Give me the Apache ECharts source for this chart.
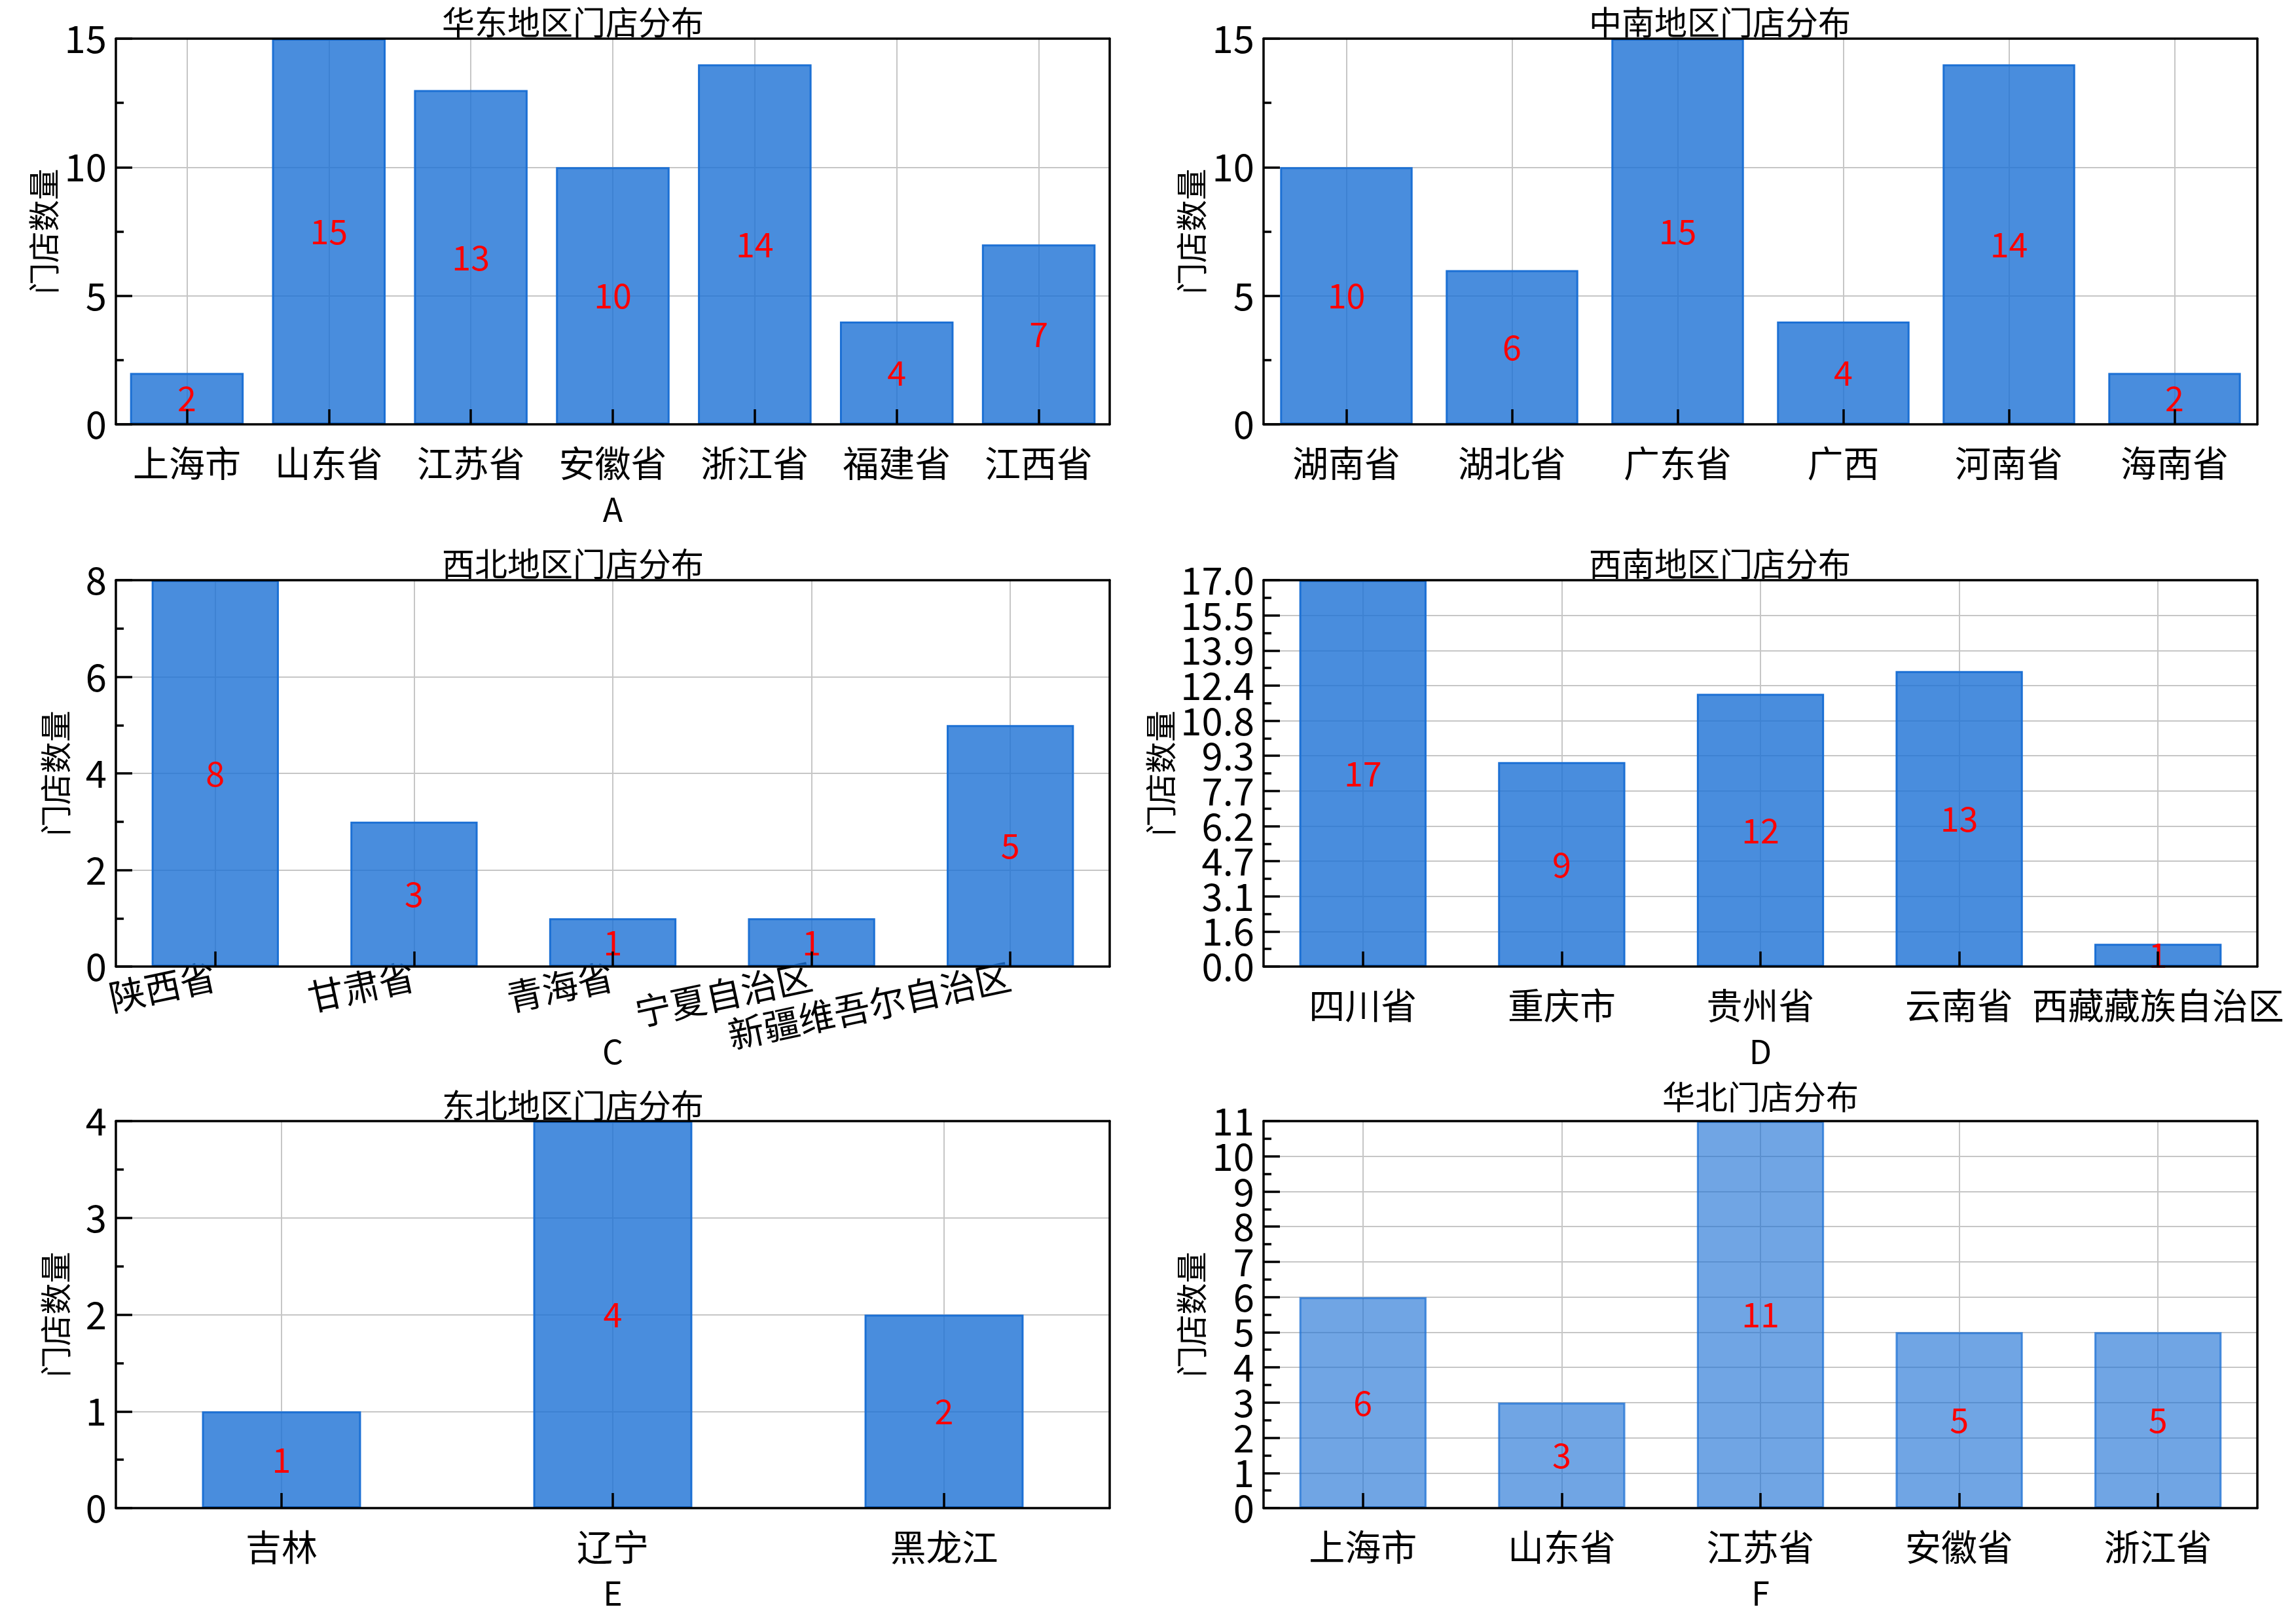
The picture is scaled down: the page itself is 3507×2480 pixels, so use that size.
<!DOCTYPE html>
<html>
<head>
<meta charset="utf-8">
<script src="https://cdn.jsdelivr.net/npm/echarts@6/dist/echarts.min.js"></script>
<style>
html,body{margin:0;padding:0;background:#fff;}
#c{width:3507px;height:2480px;}
</style>
</head>
<body>
<div id="c"></div>
<script>
// ---- data ----
const catsA = ['上海市','山东省','江苏省','安徽省','浙江省','福建省','江西省'];
const valsA = [2,15,13,10,14,4,7];
const catsB = ['湖南省','湖北省','广东省','广西','河南省','海南省'];
const valsB = [10,6,15,4,14,2];
const catsC = ['陕西省','甘肃省','青海省','宁夏自治区','新疆维吾尔自治区'];
const valsC = [8,3,1,1,5];
const catsD = ['四川省','重庆市','贵州省','云南省','西藏藏族自治区'];
const valsD = [17,9,12,13,1];
const catsE = ['吉林','辽宁','黑龙江'];
const valsE = [1,4,2];
const catsF = ['上海市','山东省','江苏省','安徽省','浙江省'];
const valsF = [6,3,11,5,5];
const titles = ['华东地区门店分布','中南地区门店分布','西北地区门店分布','西南地区门店分布','东北地区门店分布','华北门店分布'];
const xNames = ['A','','C','D','E','F'];
const yName = '门店数量';
const yMax = [15,15,8,17,4,11];
const yInterval = [5,5,2,17/11,1,1];
const yTicksA = ['0','5','10','15'];
const yTicksB = ['0','5','10','15'];
const yTicksC = ['0','2','4','6','8'];
const yTicksD = ['0.0','1.6','3.1','4.7','6.2','7.7','9.3','10.8','12.4','13.9','15.5','17.0'];
const yTicksE = ['0','1','2','3','4'];
const yTicksF = ['0','1','2','3','4','5','6','7','8','9','10','11'];

// ---- layout / style ----
const FONT = '"Noto Sans CJK SC", "Noto Sans", sans-serif';
const cats = [catsA,catsB,catsC,catsD,catsE,catsF];
const vals = [valsA,valsB,valsC,valsD,valsE,valsF];
const yTicks = [yTicksA,yTicksB,yTicksC,yTicksD,yTicksE,yTicksF];
const grids = [
  {left:177, top:59, width:1518, height:589},
  {left:1930, top:59, width:1518, height:589},
  {left:177, top:886, width:1518, height:590},
  {left:1930, top:886, width:1518, height:590},
  {left:177, top:1712, width:1518, height:591},
  {left:1930, top:1712, width:1518, height:591}
];
const barWidths = ['80%','80%','64%','64%','48%','64%'];
const yNameGap = [86,86,68,133,68,86];
const titlePos = [[875,34],[2627,34],[875,861],[2627,861],[875,1688],[2689,1675]];
const lineStyle = {color:'#000', width:3.5};
const gridColor = '#c6c6c6';

const xAxis = [], yAxis = [], series = [];
for (let i = 0; i < 6; i++) {
  const xb = xAxis.length, yb = yAxis.length;
  xAxis.push({
    type:'category', gridIndex:i, data:cats[i], position:'bottom', z:0,
    axisLine:{show:false, onZero:false}, axisTick:{show:false},
    axisLabel:{interval:0, fontSize:55, color:'#000', fontFamily:FONT, margin: i===2 ? 14 : 32, rotate: i===2 ? 12 : 0},
    splitLine:{show:true, interval:0, alignWithLabel:true, lineStyle:{color:gridColor, width:2}},
    name:xNames[i], nameLocation:'middle', nameGap:105, nameMoveOverlap:false,
    nameTextStyle:{fontSize:50, color:'#000', fontFamily:FONT}
  });
  xAxis.push({
    type:'category', gridIndex:i, data:cats[i], position:'bottom', z:10,
    axisLine:{show:true, onZero:false, lineStyle:lineStyle},
    axisTick:{show:true, inside:true, alignWithLabel:true, interval:0, length:23, lineStyle:lineStyle},
    axisLabel:{show:false}, splitLine:{show:false}
  });
  xAxis.push({
    type:'category', gridIndex:i, data:cats[i], position:'top', z:10,
    axisLine:{show:true, onZero:false, lineStyle:lineStyle},
    axisTick:{show:false}, axisLabel:{show:false}, splitLine:{show:false}
  });
  // main value axis (series, grid lines, name)
  yAxis.push({
    type:'value', gridIndex:i, min:0, max:yMax[i], interval:yInterval[i], position:'left', z:0,
    axisLine:{show:false, onZero:false}, axisTick:{show:false}, axisLabel:{show:false},
    splitLine:{show:true, lineStyle:{color:gridColor, width:2}},
    name:yName, nameLocation:'middle', nameGap:yNameGap[i], nameMoveOverlap:false,
    nameTextStyle:{fontSize:48, color:'#000', fontFamily:FONT}
  });
  // frame line + inward ticks
  yAxis.push({
    type:'value', gridIndex:i, min:0, max:yMax[i], interval:yInterval[i], position:'left', z:10,
    axisLine:{show:true, onZero:false, lineStyle:lineStyle},
    axisTick:{show:true, inside:true, length:25, lineStyle:lineStyle},
    minorTick:{show:true, splitNumber:2, length:12, lineStyle:lineStyle},
    axisLabel:{show:false}, splitLine:{show:false}
  });
  // right frame line
  yAxis.push({
    type:'value', gridIndex:i, min:0, max:yMax[i], interval:yInterval[i], position:'right', z:10,
    axisLine:{show:true, onZero:false, lineStyle:lineStyle},
    axisTick:{show:false}, axisLabel:{show:false}, splitLine:{show:false}
  });
  // tick labels (evenly spaced, all shown)
  yAxis.push({
    type:'category', gridIndex:i, data:yTicks[i], boundaryGap:false, position:'left', z:0,
    axisLine:{show:false, onZero:false}, axisTick:{show:false}, splitLine:{show:false},
    axisLabel:{interval:0, fontSize:58, color:'#000', fontFamily:FONT, margin:14}
  });
  const light = i === 5;
  series.push({
    type:'bar', xAxisIndex:xb, yAxisIndex:yb, data:vals[i], barWidth:barWidths[i],
    itemStyle:{
      color: light ? 'rgba(28,112,212,0.63)' : 'rgba(28,112,212,0.8)',
      borderColor: light ? 'rgba(28,112,212,0.75)' : 'rgb(28,112,212)',
      borderWidth:3
    },
    label:{show:true, position:'inside', color:'#ff0000', fontSize:52, fontFamily:FONT},
    animation:false
  });
}

const graphic = titles.map((t,i) => ({
  type:'text', x:titlePos[i][0], y:titlePos[i][1], z:100,
  style:{text:t, fontSize:50, fontFamily:FONT, fill:'#000', textAlign:'center', textVerticalAlign:'middle'}
}));

const chart = echarts.init(document.getElementById('c'), null, {width:3507, height:2480, renderer:'canvas'});
chart.setOption({
  backgroundColor:'#fff',
  animation:false,
  textStyle:{fontFamily:FONT},
  grid: grids,
  xAxis: xAxis,
  yAxis: yAxis,
  series: series,
  graphic: graphic
});
</script>
</body>
</html>
